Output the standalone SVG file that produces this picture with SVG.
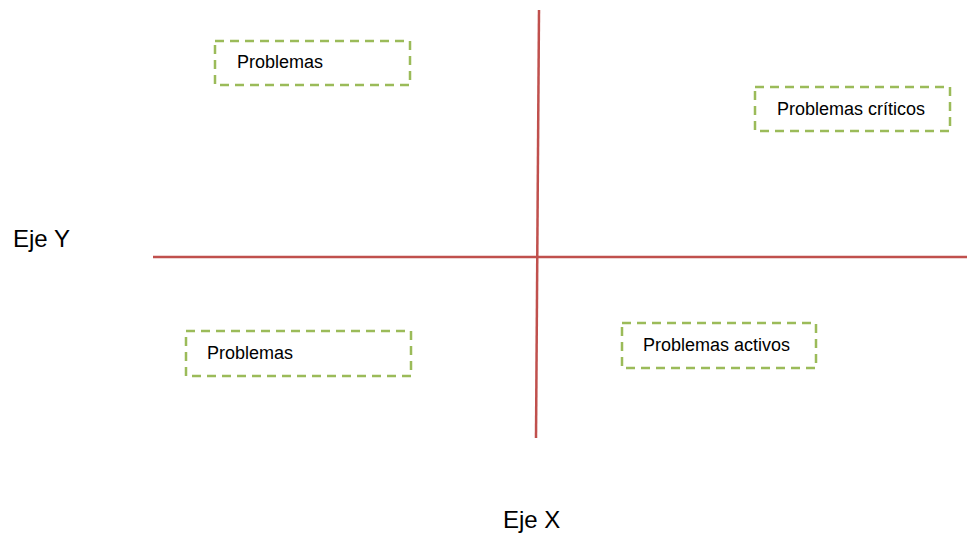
<svg xmlns="http://www.w3.org/2000/svg" width="967" height="533" viewBox="0 0 967 533">
  <style>
    .box { fill: none; stroke: #9bbb59; stroke-width: 2.5; stroke-dasharray: 9 6; }
    .lbl { font-family: "Liberation Sans", Arial, sans-serif; font-size: 18px; fill: #000; }
    .axis-lbl { font-family: "Liberation Sans", Arial, sans-serif; font-size: 24px; fill: #000; }
    .axis { stroke: #c0504d; stroke-width: 2.5; fill: none; }
  </style>
  <rect width="967" height="533" fill="#fff"/>
  <g id="connectors">
    <line class="axis" x1="539" y1="10" x2="536" y2="438"/>
    <line class="axis" x1="153" y1="257" x2="967" y2="257"/>
  </g>
  <g id="box-top-left">
    <rect class="box" x="215" y="41" width="195" height="44"/>
    <text class="lbl" x="237" y="68">Problemas</text>
  </g>
  <g id="box-top-right">
    <rect class="box" x="755" y="87" width="195" height="44"/>
    <text class="lbl" x="777" y="115">Problemas críticos</text>
  </g>
  <g id="box-bottom-left">
    <rect class="box" x="186" y="331" width="225" height="45"/>
    <text class="lbl" x="207" y="359">Problemas</text>
  </g>
  <g id="box-bottom-right">
    <rect class="box" x="622" y="323" width="194" height="45"/>
    <text class="lbl" x="643" y="351">Problemas activos</text>
  </g>
  <g id="label-y">
    <text class="axis-lbl" x="13" y="247">Eje Y</text>
  </g>
  <g id="label-x">
    <text class="axis-lbl" x="503" y="528">Eje X</text>
  </g>
</svg>
